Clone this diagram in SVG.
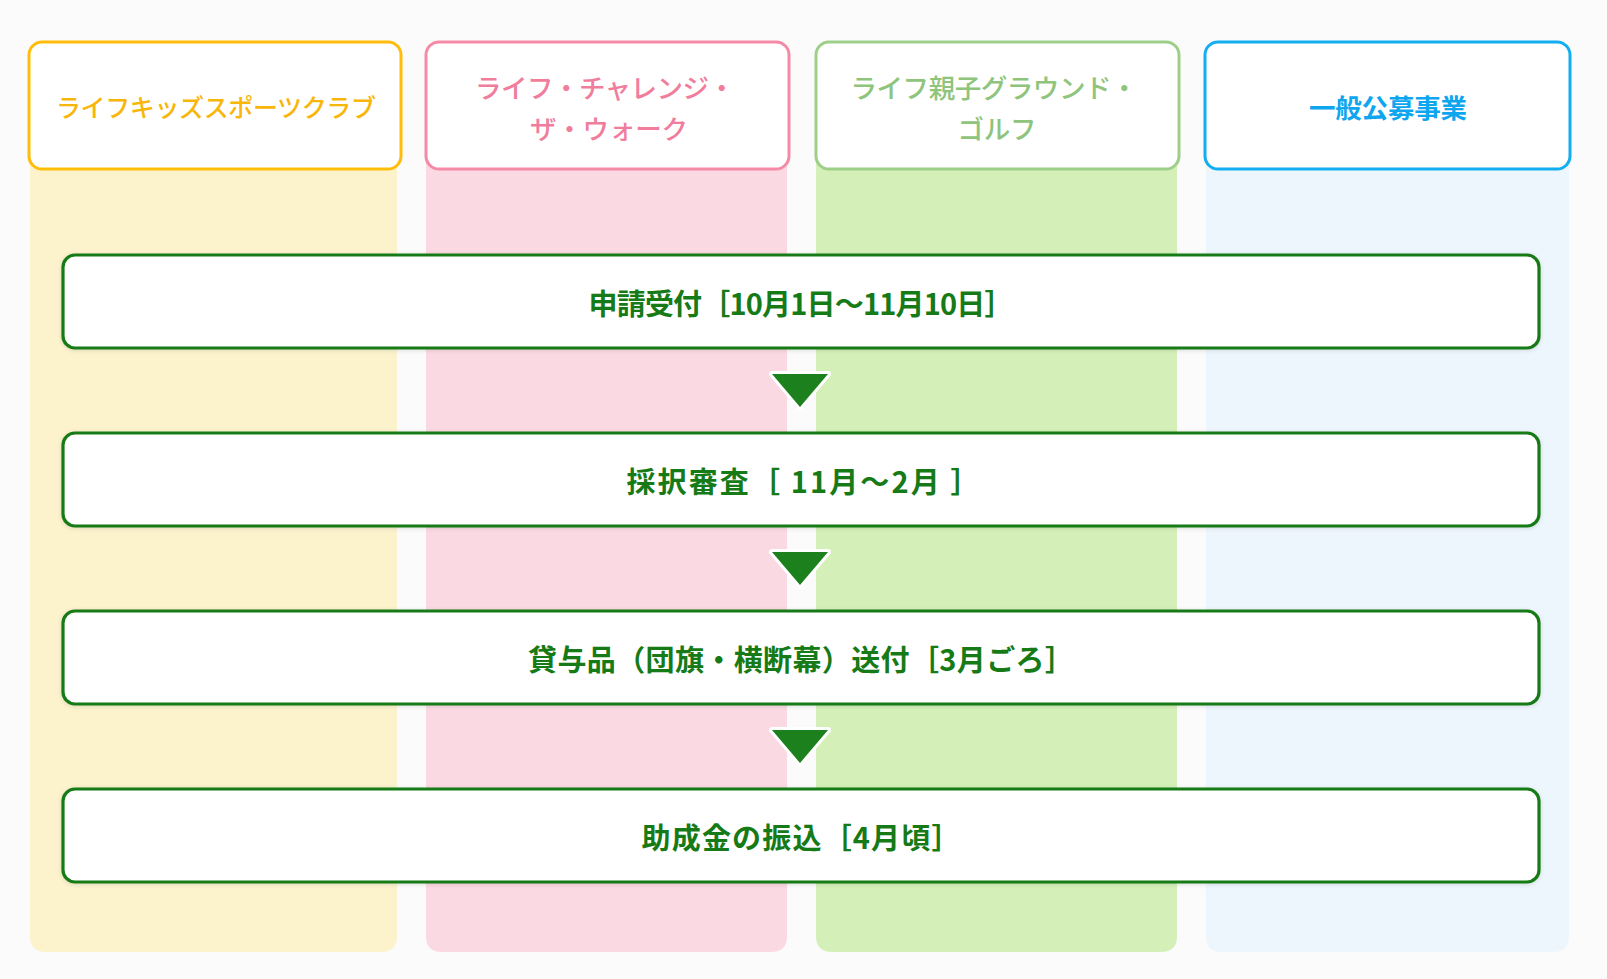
<svg xmlns="http://www.w3.org/2000/svg" width="1607" height="979" viewBox="0 0 1607 979">
<style>
.bg{fill:#fbfbfb}
.head{fill:#ffffff;stroke-width:3}
.htxt{font-family:"Noto Sans CJK JP","Noto Sans CJK SC",sans-serif;font-size:26.5px;font-weight:500;text-anchor:middle;dominant-baseline:central}
.step{fill:#ffffff;stroke:#157a15;stroke-width:3.2}
.stxt{font-family:"Noto Sans CJK JP","Noto Sans CJK SC",sans-serif;font-size:29px;font-weight:700;fill:#167a16;text-anchor:middle;dominant-baseline:central}
.arrow{fill:#1c801c;stroke:#ffffff;stroke-width:6;stroke-linejoin:round;paint-order:stroke}
</style>
<defs>
<filter id="sh" x="-5%" y="-30%" width="110%" height="160%">
<feDropShadow dx="0" dy="1" stdDeviation="2" flood-color="#000000" flood-opacity="0.12"/>
</filter>
</defs>
<rect class="bg" x="0" y="0" width="1607" height="979"/>
<g id="lanes">
<path d="M30 100 H397 V936 Q397 952 381 952 H46 Q30 952 30 936 Z" fill="#fcf3cd"/>
<path d="M426 100 H787 V936 Q787 952 771 952 H442 Q426 952 426 936 Z" fill="#fbd9e2"/>
<path d="M816 100 H1177 V936 Q1177 952 1161 952 H832 Q816 952 816 936 Z" fill="#d4f0b8"/>
<path d="M1206 100 H1569 V936 Q1569 952 1553 952 H1222 Q1206 952 1206 936 Z" fill="#eef6fd"/>
</g>
<g id="head-kids">
<rect class="head" x="29" y="42" width="372" height="127" rx="13" stroke="#ffbd0a"/>
<text class="htxt" x="216" y="106" fill="#f8b60a" style="font-size:25px" textLength="320" lengthAdjust="spacing">ライフキッズスポーツクラブ</text>
</g>
<g id="head-challenge">
<rect class="head" x="426" y="42" width="363" height="127" rx="13" stroke="#f58aa6"/>
<text class="htxt" x="605" y="86" fill="#f17d9c" textLength="260" lengthAdjust="spacing">ライフ・チャレンジ・</text>
<text class="htxt" x="609" y="127" fill="#f17d9c" textLength="158" lengthAdjust="spacing">ザ・ウォーク</text>
</g>
<g id="head-ground">
<rect class="head" x="816" y="42" width="363" height="127" rx="13" stroke="#9dcf89"/>
<text class="htxt" x="994" y="86" fill="#8ec47c" textLength="287" lengthAdjust="spacing">ライフ親子グラウンド・</text>
<text class="htxt" x="997" y="127" fill="#8ec47c" textLength="79" lengthAdjust="spacing">ゴルフ</text>
</g>
<g id="head-general">
<rect class="head" x="1205" y="42" width="365" height="127" rx="13" stroke="#12aef0"/>
<text class="htxt" x="1388" y="106" fill="#0ea6ee" style="font-weight:700" textLength="158" lengthAdjust="spacing">一般公募事業</text>
</g>
<g id="connectors">
<polygon class="arrow" points="772,374 828,374 800,407"/>
<polygon class="arrow" points="772,552 828,552 800,585"/>
<polygon class="arrow" points="772,730 828,730 800,763"/>
</g>
<g id="step1">
<rect class="step" x="63" y="255" width="1476" height="93" rx="12" filter="url(#sh)"/>
<text class="stxt" x="801" y="302" textLength="425" lengthAdjust="spacing">申請受付［10月1日～11月10日］</text>
</g>
<g id="step2">
<rect class="step" x="63" y="433" width="1476" height="93" rx="12" filter="url(#sh)"/>
<text class="stxt" x="803" y="480" textLength="353" lengthAdjust="spacing">採択審査［ 11月～2月 ］</text>
</g>
<g id="step3">
<rect class="step" x="63" y="611" width="1476" height="93" rx="12" filter="url(#sh)"/>
<text class="stxt" x="801" y="658" textLength="546" lengthAdjust="spacing">貸与品（団旗・横断幕）送付［3月ごろ］</text>
</g>
<g id="step4">
<rect class="step" x="63" y="789" width="1476" height="93" rx="12" filter="url(#sh)"/>
<text class="stxt" x="801" y="836" textLength="319" lengthAdjust="spacing">助成金の振込［4月頃］</text>
</g>
</svg>
